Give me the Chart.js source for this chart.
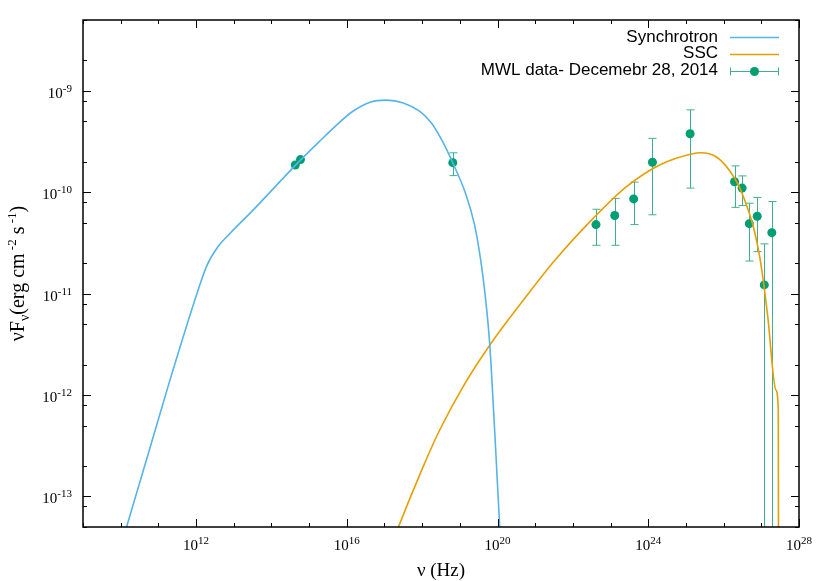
<!DOCTYPE html>
<html>
<head>
<meta charset="utf-8">
<script src="https://cdn.jsdelivr.net/npm/chart.js@4"></script>
<style>
  html, body { margin: 0; padding: 0; background: #fff; }
</style>
</head>
<body>
<canvas id="sedChart" width="830" height="581"></canvas>
<script>
// Synchrotron model curve: nu [Hz] and nuFnu [erg cm^-2 s^-1]
const syncNu = [1e10, 1.41e10, 5e10, 2e11, 1.12e12, 1.95e12, 3.8e12, 7.8e12, 3.16e13, 5e14,
  1.86e15, 5e15, 1.45e16, 4e16, 1.12e17, 3.16e17, 8.5e17, 1.78e18, 3.5e18, 6.5e18,
  1.48e19, 2.45e19, 3.3e19, 4.4e19, 6.2e19, 8.3e19, 1.12e20, 1.2e20];
const syncFlux = [3.2e-14, 4.9e-14, 2.4e-13, 1.38e-12, 1.07e-11, 1.9e-11, 2.9e-11, 3.9e-11, 6.6e-11, 1.95e-10,
  3.16e-10, 4.5e-10, 6.3e-10, 7.7e-10, 8.1e-10, 7.6e-10, 6.3e-10, 4.8e-10, 3.16e-10, 1.95e-10,
  9.3e-11, 4.8e-11, 2.6e-11, 1.2e-11, 3.2e-12, 4.8e-13, 5.8e-14, 3.2e-14];

// SSC model curve
const sscNu = [1.5e17, 2.3e17, 1.05e18, 2.9e18, 1.2e19, 6.2e19, 4.7e20, 3.2e21, 3.4e22, 2.6e23,
  2e24, 1.5e25, 2.5e25, 6.3e25, 1.4e26, 2.6e26, 4.8e26, 6.6e26, 8.9e26, 1.15e27,
  1.48e27, 2.45e27, 2.82e27, 2.88e27];
const sscFlux = [3.2e-14, 4.9e-14, 1.95e-13, 4.5e-13, 1.2e-12, 3.1e-12, 8.5e-12, 2.1e-11, 5.5e-11, 1.13e-10,
  1.86e-10, 2.4e-10, 2.45e-10, 2.24e-10, 1.66e-10, 1.13e-10, 6.2e-11, 4.1e-11, 2.4e-11, 1.27e-11,
  5.96e-12, 1.12e-12, 7.1e-13, 3e-15];

// MWL data, December 28, 2014 (null = no error bar)
const dataNu = [4.3e14, 5.9e14, 6.5e18, 4.1e22, 1.29e23, 4.1e23, 1.29e24, 1.29e25,
  1.95e26, 3.1e26, 4.8e26, 7.8e26, 1.2e27, 1.9e27];
const dataFlux = [1.86e-10, 2.1e-10, 1.96e-10, 4.8e-11, 5.9e-11, 8.6e-11, 1.98e-10, 3.78e-10,
  1.27e-10, 1.1e-10, 4.9e-11, 5.8e-11, 1.22e-11, 4.0e-11];
const errHigh = [null, null, 2.45e-10, 6.8e-11, 8.7e-11, 1.26e-10, 3.4e-10, 6.5e-10,
  1.82e-10, 1.45e-10, 7.8e-11, 8.9e-11, 3.1e-11, 8.1e-11];
const errLow = [null, null, 1.46e-10, 3.0e-11, 3.0e-11, 4.8e-11, 6.0e-11, 1.1e-10,
  7.1e-11, 7.4e-11, 2.1e-11, 2.6e-11, 1e-15, 1e-15];

// axis ticks (decade exponents)
const xDecades = [9, 10, 11, 12, 13, 14, 15, 16, 17, 18, 19, 20, 21, 22, 23, 24, 25, 26, 27, 28];
const xLabelled = [12, 16, 20, 24, 28];
const yDecades = [-14, -13, -12, -11, -10, -9];
const yLabelled = [-13, -12, -11, -10, -9];

const syncColor = '#56b4e9';
const sscColor = '#e69f00';
const dataColor = '#009e73';
const errColor = '#3fb08d';
const serif = '"Liberation Serif", "DejaVu Serif", serif';
const sans = '"Liberation Sans", Arial, sans-serif';

function toPoints(xs, ys) {
  return xs.map((v, i) => ({ x: v, y: ys[i] }));
}

// error bars drawn just before the data points
const errorBars = {
  id: 'errorBars',
  beforeDatasetDraw(chart, args) {
    if (args.index !== 2) return;
    const { ctx, chartArea: a, scales: { x, y } } = chart;
    ctx.save();
    ctx.beginPath();
    ctx.rect(a.left, a.top, a.right - a.left, a.bottom - a.top);
    ctx.clip();
    ctx.strokeStyle = errColor;
    ctx.lineWidth = 1;
    dataNu.forEach((nu, i) => {
      if (errLow[i] == null) return;
      const px = Math.round(x.getPixelForValue(nu)) + 0.5;
      const top = y.getPixelForValue(errHigh[i]);
      const bot = y.getPixelForValue(errLow[i]);
      ctx.beginPath();
      ctx.moveTo(px, top); ctx.lineTo(px, bot);
      ctx.moveTo(px - 4, top); ctx.lineTo(px + 4, top);
      ctx.moveTo(px - 4, bot); ctx.lineTo(px + 4, bot);
      ctx.stroke();
    });
    ctx.restore();
  }
};

// gnuplot-like frame, inward ticks, labels and key
const frame = {
  id: 'frame',
  afterDraw(chart) {
    const { ctx, chartArea: a, scales: { x, y } } = chart;
    ctx.save();
    ctx.strokeStyle = '#000';
    ctx.lineWidth = 1;
    ctx.beginPath();
    xDecades.forEach(e => {
      const px = Math.round(x.getPixelForValue(Math.pow(10, e))) + 0.5;
      const len = e % 4 === 0 ? 8 : 4;
      ctx.moveTo(px, a.bottom); ctx.lineTo(px, a.bottom - len);
      ctx.moveTo(px, a.top); ctx.lineTo(px, a.top + len);
    });
    yDecades.forEach(e => {
      [1, 2, 5, 8].forEach(m => {
        const v = m * Math.pow(10, e);
        if (v < y.min || v > y.max) return;
        const py = Math.round(y.getPixelForValue(v)) + 0.5;
        const len = m === 1 ? 8 : 4;
        ctx.moveTo(a.left, py); ctx.lineTo(a.left + len, py);
        ctx.moveTo(a.right, py); ctx.lineTo(a.right - len, py);
      });
    });
    ctx.stroke();

    ctx.lineWidth = 1.5;
    ctx.strokeRect(a.left, a.top, a.right - a.left, a.bottom - a.top);

    // tick labels 10^n
    ctx.fillStyle = '#000';
    ctx.textBaseline = 'alphabetic';
    const base = '15px ' + serif;
    const sup = '11px ' + serif;
    xLabelled.forEach(e => {
      const px = x.getPixelForValue(Math.pow(10, e));
      ctx.font = base; const w1 = ctx.measureText('10').width;
      ctx.font = sup; const w2 = ctx.measureText(String(e)).width;
      const left = px - (w1 + w2) / 2;
      ctx.textAlign = 'left';
      ctx.font = base; ctx.fillText('10', left, a.bottom + 23);
      ctx.font = sup; ctx.fillText(String(e), left + w1, a.bottom + 17);
    });
    yLabelled.forEach(e => {
      const py = y.getPixelForValue(Math.pow(10, e));
      const right = a.left - 11;
      ctx.font = sup; const w2 = ctx.measureText(String(e)).width;
      ctx.textAlign = 'right';
      ctx.fillText(String(e), right, py + 1);
      ctx.font = base; ctx.fillText('10', right - w2, py + 7);
    });

    // axis titles
    ctx.textAlign = 'center';
    ctx.font = '19px ' + serif;
    ctx.fillText('\u03bd (Hz)', (a.left + a.right) / 2, 576);

    ctx.save();
    ctx.translate(24, (a.top + a.bottom) / 2);
    ctx.rotate(-Math.PI / 2);
    const parts = [
      ['\u03bdF', 20, 0], ['\u03bd', 14, 5], ['(erg cm', 20, 0], [' -2', 13, -8],
      [' s', 20, 0], [' -1', 13, -8], [')', 20, 0]
    ];
    let total = 0;
    parts.forEach(p => { ctx.font = p[1] + 'px ' + serif; total += ctx.measureText(p[0]).width; });
    let cx = -total / 2;
    ctx.textAlign = 'left';
    parts.forEach(p => {
      ctx.font = p[1] + 'px ' + serif;
      ctx.fillText(p[0], cx, p[2]);
      cx += ctx.measureText(p[0]).width;
    });
    ctx.restore();

    // key, top right
    ctx.font = '17px ' + sans;
    ctx.textAlign = 'right';
    ctx.textBaseline = 'middle';
    const keyText = a.right - 81;
    const s0 = a.right - 69, s1 = a.right - 20;
    chart.data.datasets.forEach((ds, i) => {
      const ky = 37 + i * 16.8;
      ctx.fillStyle = '#000';
      ctx.fillText(ds.label, keyText, ky);
      const ly = Math.round(ky) + 0.5;
      if (i < 2) {
        ctx.strokeStyle = ds.borderColor;
        ctx.lineWidth = 1.5;
        ctx.beginPath(); ctx.moveTo(s0, ly); ctx.lineTo(s1, ly); ctx.stroke();
      } else {
        ctx.strokeStyle = errColor;
        ctx.lineWidth = 1;
        ctx.beginPath();
        ctx.moveTo(s0, ly); ctx.lineTo(s1, ly);
        ctx.moveTo(s0 + 0.5, ly - 4); ctx.lineTo(s0 + 0.5, ly + 4);
        ctx.moveTo(s1 - 0.5, ly - 4); ctx.lineTo(s1 - 0.5, ly + 4);
        ctx.stroke();
        ctx.fillStyle = dataColor;
        ctx.beginPath(); ctx.arc((s0 + s1) / 2, ly, 4.5, 0, Math.PI * 2); ctx.fill();
      }
    });
    ctx.restore();
  }
};

new Chart(document.getElementById('sedChart').getContext('2d'), {
  type: 'line',
  data: {
    datasets: [
      {
        label: 'Synchrotron',
        data: toPoints(syncNu, syncFlux),
        borderColor: syncColor,
        borderWidth: 1.6,
        pointRadius: 0,
        fill: false,
        cubicInterpolationMode: 'monotone'
      },
      {
        label: 'SSC',
        data: toPoints(sscNu, sscFlux),
        borderColor: sscColor,
        borderWidth: 1.6,
        pointRadius: 0,
        fill: false,
        cubicInterpolationMode: 'monotone'
      },
      {
        label: 'MWL data- Decemebr 28, 2014',
        data: toPoints(dataNu, dataFlux),
        showLine: false,
        backgroundColor: dataColor,
        borderColor: dataColor,
        borderWidth: 0,
        pointRadius: 4.5
      }
    ]
  },
  options: {
    responsive: false,
    animation: false,
    devicePixelRatio: 1,
    layout: { padding: { left: 83, right: 31, top: 20, bottom: 54 } },
    scales: {
      x: { type: 'logarithmic', min: 1e9, max: 1e28, display: false },
      y: { type: 'logarithmic', min: 5e-14, max: 5e-9, display: false }
    },
    plugins: {
      legend: { display: false },
      tooltip: { enabled: false }
    }
  },
  plugins: [errorBars, frame]
});
</script>
</body>
</html>
